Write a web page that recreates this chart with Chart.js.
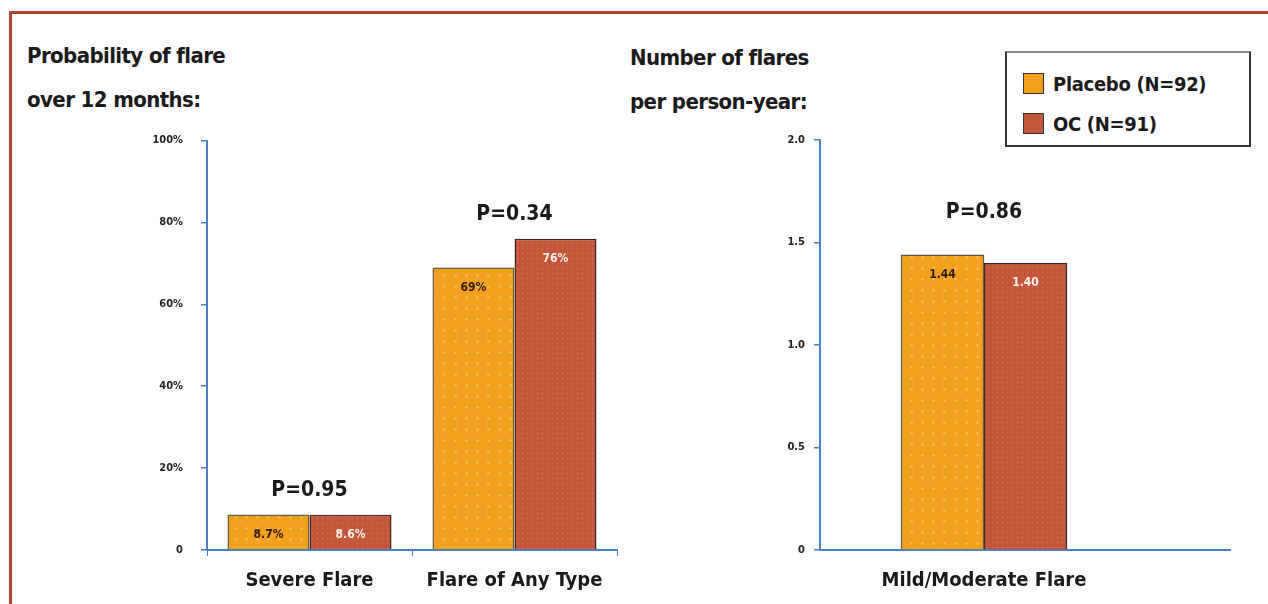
<!DOCTYPE html>
<html lang="en">
<head>
<meta charset="UTF-8" />
<title>Flare probability and rate: Placebo vs OC</title>
<script src="https://cdn.jsdelivr.net/npm/chart.js@4"></script>
<style>
  html, body { margin: 0; padding: 0; background: #fff; }
  body { width: 1268px; height: 604px; position: relative; overflow: hidden;
         font-family: "DejaVu Sans", sans-serif; font-stretch: condensed; font-weight: bold; color: #1a1a1a; }
  .frame { position: absolute; left: 9px; top: 11px; right: -5px; bottom: -5px;
           border-top: 3px solid #b4472d; border-left: 3px solid #b4472d; }
  .title { position: absolute; font-size: 22px; line-height: 44px; letter-spacing: -0.6px; }
  canvas { position: absolute; }
  #legend { position: absolute; left: 1005px; top: 51px; width: 242px; height: 92px;
            border: 2px solid #333; border-top-color: #888; }
  #legend .item { position: absolute; left: 16px; font-size: 20px; line-height: 22px; letter-spacing: -0.3px; }
  #legend .sw { display: inline-block; width: 19px; height: 19px; border: 1px solid #333;
                vertical-align: -3px; margin-right: 9px; }
</style>
</head>
<body>
<div class="frame"></div>
<div class="title" style="left:27px; top:34px;">Probability of flare<br>over 12 months:</div>
<div class="title" style="left:630px; top:36px;">Number of flares<br>per person-year:</div>
<div id="legend"></div>
<canvas id="left" width="520" height="488" style="left:120px; top:116px;"></canvas>
<canvas id="right" width="520" height="484" style="left:730px; top:120px;"></canvas>
<script>
  // values
  const seriesNames = ["Placebo (N=92)", "OC (N=91)"];
  const probCats = ["Severe Flare", "Flare of Any Type"];
  const probPlacebo = [8.7, 69];
  const probOC = [8.6, 76];
  const probLabels = [["8.7%", "8.6%"], ["69%", "76%"]];
  const probP = ["P=0.95", "P=0.34"];
  const probTicks = [0, 20, 40, 60, 80, 100];

  const rateCats = ["Mild/Moderate Flare"];
  const ratePlacebo = [1.44];
  const rateOC = [1.40];
  const rateLabels = [["1.44", "1.40"]];
  const rateP = ["P=0.86"];
  const rateTicks = [0, 0.5, 1.0, 1.5, 2.0];

  const FONT = '"DejaVu Sans", sans-serif';
  // Chart.js passes weight straight into ctx.font, so the stretch rides along with it
  const BOLD_NARROW = "condensed bold";
  const orange = "#f2a01e", rust = "#c3553a", axisBlue = "#4d7fbf";

  function dotPattern(base, dot, step, r) {
    const c = document.createElement("canvas");
    c.width = step; c.height = step;
    const g = c.getContext("2d");
    g.fillStyle = base; g.fillRect(0, 0, step, step);
    g.fillStyle = dot;
    g.beginPath(); g.arc(step / 2, step / 2, r, 0, Math.PI * 2); g.fill();
    return g.createPattern(c, "repeat");
  }
  const orangeFill = dotPattern(orange, "#f7c15a", 11, 1.3);
  const rustFill = dotPattern(rust, "#cf6a4c", 5, 0.9);

  // legend
  const legend = document.getElementById("legend");
  [orange, rust].forEach((col, i) => {
    const d = document.createElement("div");
    d.className = "item";
    d.style.top = (20 + i * 40) + "px";
    d.innerHTML = '<span class="sw" style="background:' + col + '"></span>' + seriesNames[i];
    legend.appendChild(d);
  });

  // bar value labels + P values
  const annot = {
    id: "annot",
    afterDatasetsDraw(chart, args, opts) {
      const c = chart.ctx;
      const m0 = chart.getDatasetMeta(0), m1 = chart.getDatasetMeta(1);
      c.save();
      c.textAlign = "center";
      c.textBaseline = "middle";
      m0.data.forEach((b0, i) => {
        const b1 = m1.data[i];
        if (!b0 || !b1) return;
        c.font = BOLD_NARROW + " 12px " + FONT;
        c.fillStyle = "#2b1d08";
        c.fillText(opts.labels[i][0], b0.x, b0.y + 20);
        c.fillStyle = "#fff3ea";
        c.fillText(opts.labels[i][1], b1.x, b1.y + 20);
        c.font = BOLD_NARROW + " 21px " + FONT;
        c.fillStyle = "#1a1a1a";
        c.fillText(opts.pvals[i], (b0.x + b1.x) / 2, Math.min(b0.y, b1.y) - opts.pGap);
      });
      c.restore();
    }
  };

  function yScale(ticks, fmt, pad, width) {
    return {
      min: ticks[0], max: ticks[ticks.length - 1],
      afterBuildTicks: (s) => { s.ticks = ticks.map((v) => ({ value: v })); },
      afterFit: (s) => { s.width = width; },
      border: { color: axisBlue, width: 2 },
      grid: { drawOnChartArea: false, color: axisBlue, tickLength: 6, lineWidth: 1.5 },
      ticks: { callback: fmt, padding: pad, color: "#222",
               font: { family: FONT, size: 11, weight: BOLD_NARROW } }
    };
  }
  const xFont = { family: FONT, size: 20, weight: BOLD_NARROW };

  new Chart(document.getElementById("left"), {
    type: "bar",
    data: {
      labels: probCats,
      datasets: [
        { label: seriesNames[0], data: probPlacebo, backgroundColor: orangeFill, borderColor: "#6a5a48", borderWidth: 1.5 },
        { label: seriesNames[1], data: probOC, backgroundColor: rustFill, borderColor: "#3a2a22", borderWidth: 1.5 }
      ]
    },
    options: {
      responsive: false, animation: false,
      layout: { padding: { top: 16, right: 23, bottom: 0, left: 0 } },
      categoryPercentage: 0.8, barPercentage: 1.0,
      plugins: { legend: { display: false }, tooltip: { enabled: false },
                 annot: { labels: probLabels, pvals: probP, pGap: 24 } },
      scales: {
        x: {
          afterFit: (s) => { s.height = 54; },
          border: { color: axisBlue, width: 2 },
          grid: { drawOnChartArea: false, color: axisBlue, tickLength: 6 },
          ticks: { padding: 13, color: "#1a1a1a", font: xFont }
        },
        y: yScale(probTicks, (v) => (v === 0 ? "0" : v + "%"), 18, 87)
      }
    },
    plugins: [annot]
  });

  // right panel: the category sits in a wider axis, padded with blank slots
  const rateSlots = ["", "", ...rateCats, "", "", ""];
  new Chart(document.getElementById("right"), {
    type: "bar",
    data: {
      labels: rateSlots,
      datasets: [
        { label: seriesNames[0], data: rateCats.map((c, i) => ({ x: c, y: ratePlacebo[i] })),
          backgroundColor: orangeFill, borderColor: "#6a5a48", borderWidth: 1.5 },
        { label: seriesNames[1], data: rateCats.map((c, i) => ({ x: c, y: rateOC[i] })),
          backgroundColor: rustFill, borderColor: "#3a2a22", borderWidth: 1.5 }
      ]
    },
    options: {
      responsive: false, animation: false,
      layout: { padding: { top: 20, right: 20, bottom: 0, left: 0 } },
      barThickness: 83,
      plugins: { legend: { display: false }, tooltip: { enabled: false },
                 annot: { labels: rateLabels, pvals: rateP, pGap: 42 } },
      scales: {
        x: {
          offset: false,
          afterFit: (s) => { s.height = 54; },
          border: { color: axisBlue, width: 2 },
          grid: { display: false },
          ticks: { autoSkip: false, maxRotation: 0, padding: 11, color: "#1a1a1a", font: xFont }
        },
        y: yScale(rateTicks, (v) => (v === 0 ? "0" : v.toFixed(1)), 9, 90)
      }
    },
    plugins: [annot]
  });
</script>
</body>
</html>
